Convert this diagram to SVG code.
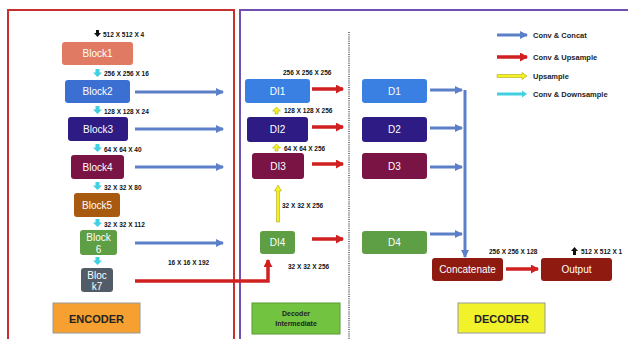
<svg xmlns="http://www.w3.org/2000/svg" width="628" height="339" viewBox="0 0 628 339">
<style>
.blk{font-family:"Liberation Sans",Arial,sans-serif;font-size:10px;fill:#fff;text-anchor:middle;dominant-baseline:central}
.dim{font-family:"Liberation Sans",Arial,sans-serif;font-size:6.5px;font-weight:bold;fill:#111;dominant-baseline:central}
.leg{font-family:"Liberation Sans",Arial,sans-serif;font-size:7.5px;font-weight:bold;fill:#222;dominant-baseline:central}
.ttl{font-family:"Liberation Sans",Arial,sans-serif;font-size:11px;font-weight:bold;fill:#222;text-anchor:middle;dominant-baseline:central}
.ttl2{font-family:"Liberation Sans",Arial,sans-serif;font-size:7px;font-weight:bold;fill:#222;text-anchor:middle}
.blue{stroke:#5B7FC8;stroke-width:3;fill:none;marker-end:url(#hb)}
.red{stroke:#D02020;stroke-width:3.5;fill:none;marker-end:url(#hr)}
.cyan{fill:#40D0E0}
.yel{fill:#F5F020;stroke:#B0A820;stroke-width:0.6}
</style>
<defs>
<marker id="hb" markerUnits="userSpaceOnUse" markerWidth="8" markerHeight="8" refX="7" refY="4" orient="auto"><path d="M0,0 L8,4 L0,8 Z" fill="#5B7FC8"/></marker>
<marker id="hr" markerUnits="userSpaceOnUse" markerWidth="8" markerHeight="9" refX="7" refY="4.5" orient="auto"><path d="M0,0 L8,4.5 L0,9 Z" fill="#D02020"/></marker>
</defs>
<rect width="628" height="339" fill="#fff"/>
<!-- frames -->
<rect x="8" y="10" width="226" height="340" fill="none" stroke="#C83030" stroke-width="2"/>
<rect x="240" y="10" width="400" height="340" fill="none" stroke="#7050B0" stroke-width="2"/>
<line x1="349" y1="32" x2="349" y2="339" stroke="#223" stroke-width="1.2" stroke-dasharray="1,1.2"/>

<g id="connectors">
<line class="blue" x1="135" y1="92" x2="223" y2="92"/>
<line class="blue" x1="135" y1="129" x2="223" y2="129"/>
<line class="blue" x1="135" y1="167" x2="223" y2="167"/>
<line class="blue" x1="135" y1="243" x2="223" y2="243"/>
<path class="red" d="M135,281 H268 V260"/>
<line class="red" x1="312" y1="89" x2="343" y2="89"/>
<line class="red" x1="312" y1="127" x2="343" y2="127"/>
<line class="red" x1="312" y1="164" x2="343" y2="164"/>
<line class="red" x1="312" y1="239" x2="343" y2="239"/>
<line class="blue" x1="430" y1="90" x2="462" y2="90"/>
<line class="blue" x1="430" y1="128" x2="462" y2="128"/>
<line class="blue" x1="430" y1="167" x2="462" y2="167"/>
<line class="blue" x1="430" y1="234" x2="462" y2="234"/>
<line class="blue" x1="465" y1="90" x2="465" y2="257"/>
<line class="red" x1="506" y1="269" x2="538" y2="269"/>
<!-- yellow upsample DI4 -> DI3 -->
<polygon class="yel" points="276.5,222 279.5,222 279.5,191 281.5,191 278,185 274.5,191 276.5,191"/>
<!-- cyan down arrows -->
<polygon class="cyan" points="95.5,69 99.5,69 99.5,72.5 102,72.5 97.5,77 93,72.5 95.5,72.5"/>
<polygon class="cyan" points="95.5,106 99.5,106 99.5,109.5 102,109.5 97.5,114 93,109.5 95.5,109.5"/>
<polygon class="cyan" points="95.5,144 99.5,144 99.5,147.5 102,147.5 97.5,152 93,147.5 95.5,147.5"/>
<polygon class="cyan" points="95.5,182 99.5,182 99.5,185.5 102,185.5 97.5,190 93,185.5 95.5,185.5"/>
<polygon class="cyan" points="95.5,219 99.5,219 99.5,222.5 102,222.5 97.5,227 93,222.5 95.5,222.5"/>
<polygon class="cyan" points="95.5,257 99.5,257 99.5,260.5 102,260.5 97.5,265 93,260.5 95.5,260.5"/>
<!-- yellow small up arrows -->
<polygon class="yel" points="275,114 278,114 278,111 280.5,111 276.5,107 272.5,111 275,111"/>
<polygon class="yel" points="275,151 278,151 278,148 280.5,148 276.5,144 272.5,148 275,148"/>
<!-- black arrows -->
<polygon fill="#111" points="96,30 99,30 99,33 101,33 97.5,37 94,33 96,33"/>
<polygon fill="#111" points="573,255 576,255 576,251 578,251 574.5,247 571,251 573,251"/>
</g>

<!-- labels -->
<text class="dim" x="103" y="34">512 X 512 X 4</text>
<text class="dim" x="104" y="73">256 X 256 X 16</text>
<text class="dim" x="104" y="111">128 X 128 X 24</text>
<text class="dim" x="104" y="149">64 X 64 X 40</text>
<text class="dim" x="104" y="187">32 X 32 X 80</text>
<text class="dim" x="104" y="224">32 X 32 X 112</text>
<text class="dim" x="168" y="262">16 X 16 X 192</text>
<text class="dim" x="283" y="72">256 X 256 X 256</text>
<text class="dim" x="284" y="110">128 X 128 X 256</text>
<text class="dim" x="284" y="148">64 X 64 X 256</text>
<text class="dim" x="282" y="205">32 X 32 X 256</text>
<text class="dim" x="288" y="266">32 X 32 X 256</text>
<text class="dim" x="489" y="251">256 X 256 X 128</text>
<text class="dim" x="581" y="251">512 X 512 X 1</text>

<g id="legend">
<line class="blue" x1="497" y1="35" x2="527" y2="35"/>
<text class="leg" x="533" y="35">Conv &amp; Concat</text>
<line class="red" x1="497" y1="57" x2="527" y2="57"/>
<text class="leg" x="533" y="57">Conv &amp; Upsample</text>
<polygon class="yel" points="497,74.5 522,74.5 522,72.5 527,76 522,79.5 522,77.5 497,77.5"/>
<text class="leg" x="533" y="76">Upsample</text>
<line stroke="#40D0E0" stroke-width="3" x1="497" y1="94" x2="524" y2="94"/>
<path d="M522,90.5 L527,94 L522,97.5 Z" fill="#40D0E0"/>
<text class="leg" x="533" y="94">Conv &amp; Downsample</text>
</g>

<g id="block1"><rect x="62" y="42" width="71" height="23" rx="3" fill="#E07A62"/><text class="blk" x="97.5" y="53.5">Block1</text></g>
<g id="block2"><rect x="65" y="80" width="65" height="23" rx="3" fill="#3C6FD2"/><text class="blk" x="97.5" y="91.5">Block2</text></g>
<g id="block3"><rect x="68" y="117" width="60" height="24" rx="3" fill="#2E1C84"/><text class="blk" x="98" y="129">Block3</text></g>
<g id="block4"><rect x="71" y="155" width="53" height="24" rx="3" fill="#7A1444"/><text class="blk" x="97.5" y="167">Block4</text></g>
<g id="block5"><rect x="74" y="193" width="46" height="24" rx="3" fill="#A85A10"/><text class="blk" x="97" y="205">Block5</text></g>
<g id="block6"><rect x="80" y="230" width="37" height="25" rx="3" fill="#5E9E44"/><text class="blk" x="98.5" y="237">Block</text><text class="blk" x="98.5" y="249">6</text></g>
<g id="block7"><rect x="81" y="268" width="32" height="24" rx="3" fill="#525C68"/><text class="blk" x="97" y="275">Bloc</text><text class="blk" x="97" y="286">k7</text></g>
<g id="encoder"><rect x="53" y="303" width="87" height="30" fill="#F5A030" stroke="#999" stroke-width="1"/><text class="ttl" x="96.5" y="318.5">ENCODER</text></g>

<g id="DI1"><rect x="245" y="79" width="65" height="24" rx="3" fill="#3A80E2"/><text class="blk" x="277.5" y="91">DI1</text></g>
<g id="DI2"><rect x="247" y="117" width="61" height="25" rx="3" fill="#2E1C84"/><text class="blk" x="277.5" y="129.5">DI2</text></g>
<g id="DI3"><rect x="252" y="153" width="52" height="26" rx="3" fill="#7A1444"/><text class="blk" x="278" y="166">DI3</text></g>
<g id="DI4"><rect x="260" y="231" width="35" height="23" rx="3" fill="#5E9E44"/><text class="blk" x="277.5" y="242.5">DI4</text></g>
<g id="decoder-intermediate"><rect x="252" y="303" width="88" height="31" fill="#72C440" stroke="#5A9A30" stroke-width="1"/><text class="ttl2" x="296" y="316">Decoder</text><text class="ttl2" x="296" y="326">Intermediate</text></g>

<g id="D1"><rect x="362" y="79" width="65" height="24" rx="3" fill="#3A80E2"/><text class="blk" x="394.5" y="91">D1</text></g>
<g id="D2"><rect x="362" y="117" width="65" height="25" rx="3" fill="#2E1C84"/><text class="blk" x="394.5" y="129.5">D2</text></g>
<g id="D3"><rect x="362" y="153" width="65" height="26" rx="3" fill="#7A1444"/><text class="blk" x="394.5" y="166">D3</text></g>
<g id="D4"><rect x="362" y="231" width="65" height="23" rx="3" fill="#5E9E44"/><text class="blk" x="394.5" y="242.5">D4</text></g>
<g id="concatenate"><rect x="432" y="258" width="71" height="23" rx="3" fill="#8E1A10"/><text class="blk" x="467.5" y="269.5">Concatenate</text></g>
<g id="output"><rect x="541" y="258" width="71" height="23" rx="3" fill="#8E1A10"/><text class="blk" x="576.5" y="269.5">Output</text></g>
<g id="decoder"><rect x="458" y="303" width="87" height="30" fill="#F2F22A" stroke="#999" stroke-width="1"/><text class="ttl" x="501.5" y="318.5">DECODER</text></g>
</svg>
